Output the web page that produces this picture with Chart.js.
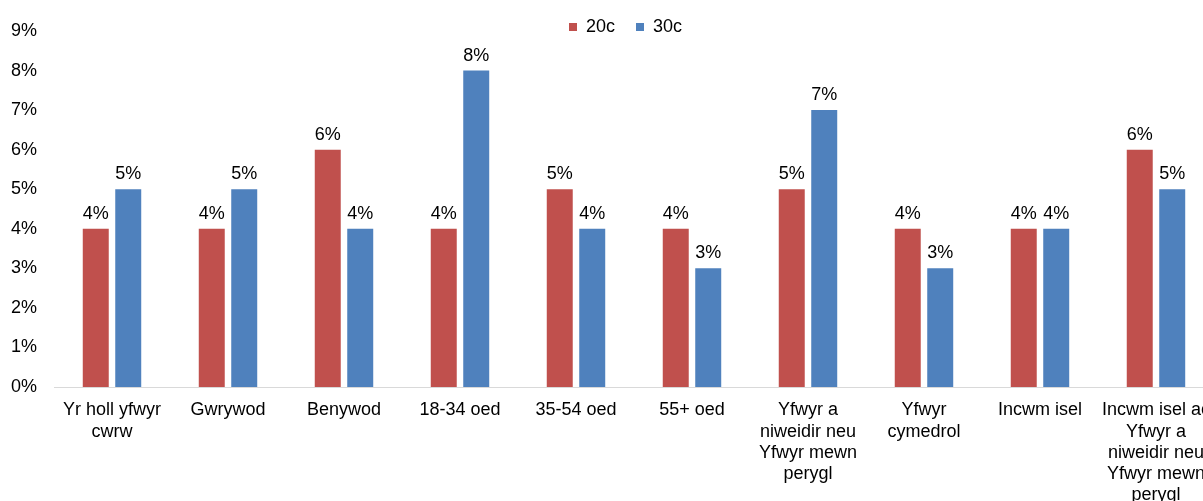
<!DOCTYPE html>
<html>
<head>
<meta charset="utf-8">
<script src="https://cdn.jsdelivr.net/npm/chart.js@4"></script>
<style>
    html, body { margin: 0; padding: 0; background: #fff; overflow: hidden; }
    .wrap { width: 1203px; height: 501px; overflow: hidden; }
</style>
</head>
<body>
<div class="wrap">
    <canvas id="chart" width="1215" height="530"></canvas>
</div>
<script>
// 分类
var categories = [
    ["Yr holl yfwyr", "cwrw"],
    "Gwrywod",
    "Benywod",
    "18-34 oed",
    "35-54 oed",
    "55+ oed",
    ["Yfwyr a", "niweidir neu", "Yfwyr mewn", "perygl"],
    ["Yfwyr", "cymedrol"],
    "Incwm isel",
    ["Incwm isel ac", "Yfwyr a", "niweidir neu", "Yfwyr mewn", "perygl"]
];

// 数据 (%)
var values20c = [4, 4, 6, 4, 5, 4, 5, 4, 4, 6];
var values30c = [5, 5, 4, 8, 4, 3, 7, 3, 4, 5];

// y 轴刻度
var yTicks = [0, 1, 2, 3, 4, 5, 6, 7, 8, 9];

Chart.defaults.font.family = "'Liberation Sans', Arial, sans-serif";
Chart.defaults.font.size = 18;
Chart.defaults.color = '#000';

//数据标签 + 图例位置
var barLabels = {
    id: 'barLabels',
    beforeUpdate: function (chart) {
        var lg = chart.legend;
        if (lg && !lg._patched) {
            var fit = lg.fit;
            var draw = lg.draw;
            lg.fit = function () {
                fit.call(this);
                this._fullH = this.height;
                this.height = 31;
            };
            lg.draw = function () {
                var h = this.height, b = this.bottom, t = this.top;
                var l = this.left, r = this.right;
                this.top = t - 3;
                this.height = this._fullH;
                this.bottom = this.top + this._fullH;
                this.left = l + 18;
                this.right = r + 18;
                draw.call(this);
                this.top = t;
                this.height = h;
                this.bottom = b;
                this.left = l;
                this.right = r;
            };
            lg._patched = true;
        }
    },
    afterDatasetsDraw: function (chart) {
        var ctx = chart.ctx;
        ctx.save();
        ctx.font = "18px 'Liberation Sans', Arial, sans-serif";
        ctx.fillStyle = '#000';
        ctx.textAlign = 'center';
        ctx.textBaseline = 'alphabetic';
        chart.data.datasets.forEach(function (ds, i) {
            chart.getDatasetMeta(i).data.forEach(function (bar, j) {
                ctx.fillText(ds.data[j] + '%', bar.x, bar.y - 10);
            });
        });
        ctx.restore();
    }
};

var ctx = document.getElementById('chart').getContext('2d');
window.myChart = new Chart(ctx, {
    type: 'bar',
    data: {
        labels: categories,
        datasets: [{
            label: '20c',
            data: values20c,
            backgroundColor: '#C0504D',
            categoryPercentage: 0.56,
            barPercentage: 0.8
        }, {
            label: '30c',
            data: values30c,
            backgroundColor: '#4F81BD',
            categoryPercentage: 0.56,
            barPercentage: 0.8
        }]
    },
    options: {
        responsive: false,
        animation: false,
        devicePixelRatio: 1,
        layout: { padding: { left: 0, right: 0, top: 0, bottom: 0 } },
        plugins: {
            legend: {
                position: 'top',
                labels: {
                    boxWidth: 8,
                    boxHeight: 8,
                    padding: 21,
                    color: '#000'
                }
            },
            tooltip: { enabled: false }
        },
        scales: {
            x: {
                grid: { display: false },
                border: { display: true, color: '#D9D9D9', width: 1 },
                ticks: {
                    padding: 5,
                    maxRotation: 0,
                    autoSkip: false,
                    font: { lineHeight: 1.17 }
                },
                afterFit: function (scale) { scale.height = 143; }
            },
            y: {
                min: 0,
                max: 9,
                afterBuildTicks: function (scale) {
                    scale.ticks = yTicks.map(function (v) { return { value: v }; });
                },
                grid: { display: false, drawTicks: false },
                border: { display: false },
                ticks: {
                    padding: 17,
                    callback: function (v) { return v + '%'; }
                },
                afterFit: function (scale) { scale.width = 54; }
            }
        }
    },
    plugins: [barLabels]
});
</script>
</body>
</html>
